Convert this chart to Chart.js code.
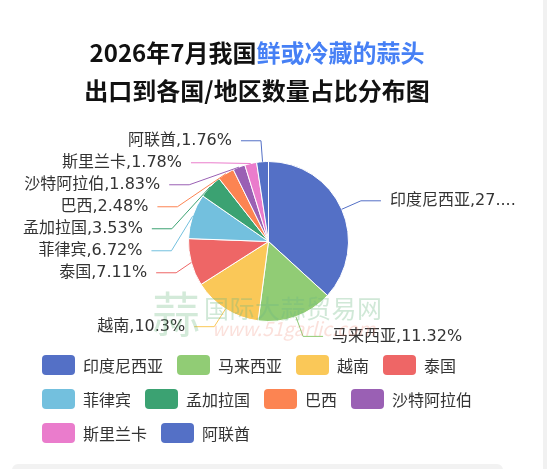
<!DOCTYPE html>
<html lang="zh">
<head>
<meta charset="utf-8">
<title>蒜头出口占比</title>
<script src="https://cdn.jsdelivr.net/npm/chart.js@4.4.1/dist/chart.umd.min.js"></script>
<style>
  html, body { margin: 0; padding: 0; background: #fff; width: 547px; height: 469px; overflow: hidden;
    font-family: "Noto Sans CJK SC", "Noto Sans", sans-serif; }
  #wrap { position: relative; width: 547px; height: 469px; }
  #wrap canvas { position: absolute; left: 0; top: 0; }
  .title { position: absolute; left: 0; top: 33px; width: 514px; text-align: center;
    font-size: 24px; font-weight: bold; line-height: 38px; color: #111; }
  .title .hl { color: #4680f5; }
  .mark { position: absolute; pointer-events: none; white-space: nowrap; }
  .mark.logo { left: 152px; top: 282px; font-size: 48px; line-height: 58px; color: rgba(110, 185, 130, 0.3); }
  .mark.name { left: 204px; top: 291px; font-size: 25px; line-height: 32px; color: rgba(110, 185, 130, 0.32); letter-spacing: 0.5px; }
  .mark.site { left: 212px; top: 316px; font-size: 19px; line-height: 24px; font-style: italic; color: rgba(240, 130, 110, 0.25); }
  #legend { position: absolute; left: 42px; top: 355px; width: 440px; display: flex; flex-wrap: wrap;
    column-gap: 14px; row-gap: 14px; }
  .item { display: flex; align-items: center; height: 20px; font-size: 16px; color: #333; }
  .box { width: 33px; height: 20px; border-radius: 4px; margin-right: 8px; }
  .scroll { position: absolute; right: 0; top: 0; width: 4px; height: 469px; background: #f1f1f1; }
  .foot { position: absolute; left: 12px; top: 464px; width: 491px; height: 12px; background: #f2f2f2; border-radius: 6px; }
</style>
</head>
<body>
<div id="wrap">
  <canvas id="pie" width="547" height="469"></canvas>
  <div class="title">2026年7月我国<span class="hl">鲜或冷藏的蒜头</span><br>出口到各国/地区数量占比分布图</div>
  <div class="mark logo">蒜</div>
  <div class="mark name">国际大蒜贸易网</div>
  <div class="mark site">www.51garlic.com</div>
  <div id="legend"></div>
  <div class="scroll"></div>
  <div class="foot"></div>
</div>
<script>
// 出口目的地及占比(%)
const countries = ['印度尼西亚', '马来西亚', '越南', '泰国', '菲律宾', '孟加拉国', '巴西', '沙特阿拉伯', '斯里兰卡', '阿联酋'];
const shares = [27.27, 11.32, 10.3, 7.11, 6.72, 3.53, 2.48, 1.83, 1.78, 1.76];
const colors = ['#5470c6', '#91cc75', '#fac858', '#ee6666', '#73c0de', '#3ba272', '#fc8452', '#9a60b4', '#ea7ccc', '#5470c6'];

const LEN1 = 21, LEN2 = 20, TEXT_GAP = 9, LABEL_GAP = 22, SHIFT_LEN = 17.5, MAX_X = 524;
const LABEL_FONT = '16px "DejaVu Sans", "Noto Sans CJK SC", sans-serif';

// labels outside the pie with leader lines, spread vertically like echarts does
const labelLines = {
  id: 'labelLines',
  afterDatasetsDraw(chart) {
    const ctx = chart.ctx;
    const meta = chart.getDatasetMeta(0);
    const ds = chart.data.datasets[0];
    const items = meta.data.map((arc, i) => {
      const p = arc.getProps(['x', 'y', 'startAngle', 'endAngle', 'outerRadius'], true);
      const a = (p.startAngle + p.endAngle) / 2;
      const c = Math.cos(a), s = Math.sin(a);
      const R = p.outerRadius + LEN1;
      return {
        i, cx: p.x, cy: p.y, r: p.outerRadius, dir: c >= 0 ? 1 : -1,
        p0: [p.x + p.outerRadius * c, p.y + p.outerRadius * s],
        p1: [p.x + R * c, p.y + R * s],
        y: p.y + R * s, shifted: false
      };
    });

    [1, -1].forEach(dir => {
      const side = items.filter(it => it.dir === dir).sort((a, b) => a.y - b.y);
      for (let k = 1; k < side.length; k++) {
        const min = side[k - 1].y + LABEL_GAP;
        if (side[k].y < min) { side[k].y = min; side[k].shifted = true; }
      }
    });

    ctx.save();
    ctx.font = LABEL_FONT;
    ctx.textBaseline = 'middle';
    items.forEach(it => {
      let p1 = it.p1;
      if (it.shifted) {
        const Rs = it.r + SHIFT_LEN;
        const dy = it.y - it.cy;
        const dx = Math.sqrt(Math.max(Rs * Rs - dy * dy, 0));
        p1 = [it.cx + it.dir * dx, it.y];
      }
      const p2 = [p1[0] + it.dir * LEN2, it.y];
      ctx.strokeStyle = ds.backgroundColor[it.i];
      ctx.lineWidth = 1;
      ctx.beginPath();
      ctx.moveTo(it.p0[0], it.p0[1]);
      ctx.lineTo(p1[0], p1[1]);
      ctx.lineTo(p2[0], p2[1]);
      ctx.stroke();

      const tx = p2[0] + it.dir * TEXT_GAP;
      let text = chart.data.labels[it.i] + ',' + ds.data[it.i] + '%';
      if (it.dir > 0 && tx + ctx.measureText(text).width > MAX_X) {
        let cut = text;
        while (cut.length > 1 && tx + ctx.measureText(cut + '...').width > MAX_X) cut = cut.slice(0, -1);
        text = cut + '...';
      }
      ctx.fillStyle = '#333';
      ctx.textAlign = it.dir > 0 ? 'left' : 'right';
      ctx.fillText(text, tx, it.y);
    });
    ctx.restore();
  }
};

const chart = new Chart(document.getElementById('pie'), {
  type: 'pie',
  data: {
    labels: countries,
    datasets: [{
      data: shares,
      backgroundColor: colors,
      borderColor: '#fff',
      borderWidth: 1
    }]
  },
  options: {
    responsive: false,
    animation: false,
    layout: { padding: { left: 188, right: 198, top: 161, bottom: 147 } },
    plugins: {
      legend: { display: false },
      tooltip: { enabled: false }
    }
  },
  plugins: [labelLines]
});

// html legend from the chart's own labels
const legendEl = document.getElementById('legend');
chart.data.labels.forEach((name, i) => {
  const item = document.createElement('div');
  item.className = 'item';
  const box = document.createElement('span');
  box.className = 'box';
  box.style.background = chart.data.datasets[0].backgroundColor[i];
  item.appendChild(box);
  item.appendChild(document.createTextNode(name));
  legendEl.appendChild(item);
});
</script>
</body>
</html>
